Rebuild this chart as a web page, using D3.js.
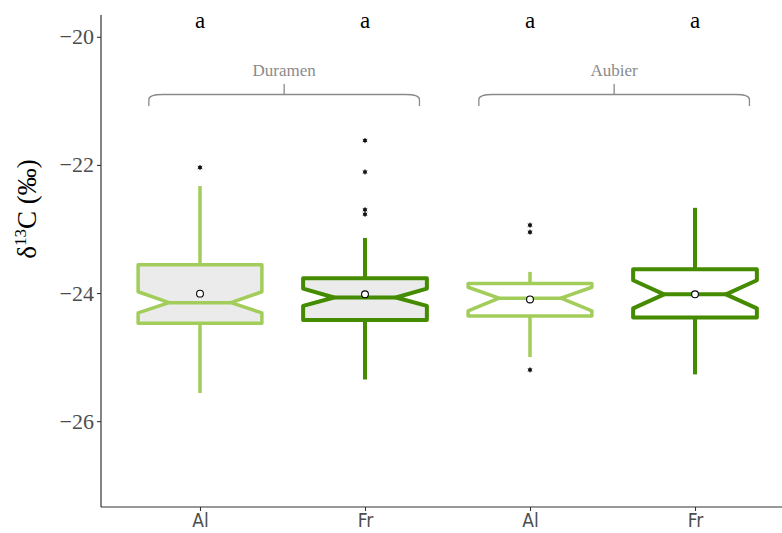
<!DOCTYPE html>
<html>
<head>
<meta charset="utf-8">
<script src="https://cdn.jsdelivr.net/npm/d3@7"></script>
<style>
  html, body { margin: 0; padding: 0; background: #fff; }
  svg { display: block; }
</style>
</head>
<body>
<svg id="chart" width="782" height="533"></svg>
<script>
// ---- data ----
const xLabels   = ["Al", "Fr", "Al", "Fr"];
const groups    = ["Duramen", "Duramen", "Aubier", "Aubier"];
const species   = ["Al", "Fr", "Al", "Fr"];
const q1        = [-24.47, -24.42, -24.36, -24.38];
const medians   = [-24.15, -24.07, -24.08, -24.02];
const q3        = [-23.56, -23.77, -23.85, -23.63];
const notchLow  = [-24.31, -24.20, -24.28, -24.24];
const notchHigh = [-23.98, -23.93, -23.91, -23.80];
const whiskLow  = [-25.56, -25.35, -25.00, -25.27];
const whiskHigh = [-22.33, -23.14, -23.67, -22.67];
const means     = [-24.01, -24.02, -24.10, -24.02];
const outliers  = [[-22.04], [-21.62, -22.11, -22.70, -22.77], [-22.94, -23.05, -25.20], []];
const letters   = ["a", "a", "a", "a"];
const yTicks    = [-26, -24, -22, -20];
const groupNames = ["Duramen", "Aubier"];
const groupMembers = [[0, 1], [2, 3]];

// ---- styles ----
const colorBySpecies = { Al: "#A2CD5A", Fr: "#458B00" };
const widthBySpecies = { Al: 3.5, Fr: 4 };
const fillByGroup = { Duramen: "#EBEBEB", Aubier: "#FFFFFF" };

const svg = d3.select("#chart");
const plotLeft = 101, plotTop = 15, plotBottom = 507;

const x = d3.scalePoint().domain(d3.range(xLabels.length)).range([plotLeft, 794]).padding(0.6);
const y = d3.scaleLinear().domain([-27.34, -19.66]).range([plotBottom, plotTop]);
const step = x.step();
const halfW = step * 0.375;
const notchHalf = halfW * 0.5;

// axes
const yAxis = d3.axisLeft(y).tickValues(yTicks).tickSize(4).tickPadding(3)
  .tickFormat(d => d3.format("d")(d).replace("-", "\u2212"));
const gy = svg.append("g").attr("transform", `translate(${plotLeft},0)`).call(yAxis);
gy.select(".domain").remove();
gy.selectAll(".tick line").attr("stroke", "#333").attr("stroke-width", 1.1);
gy.selectAll(".tick text").attr("font-family", "Liberation Serif, serif").attr("font-size", 22)
  .attr("fill", "#4D4D4D");

const xAxis = d3.axisBottom(x).tickSize(4).tickPadding(4).tickFormat(i => xLabels[i]);
const gx = svg.append("g").attr("transform", `translate(0,${plotBottom})`).call(xAxis);
gx.select(".domain").remove();
gx.selectAll(".tick line").attr("stroke", "#333").attr("stroke-width", 1.1);
gx.selectAll(".tick text").attr("font-family", "Liberation Sans Narrow, DejaVu Sans Condensed, sans-serif")
  .attr("font-size", 19).attr("fill", "#4D4D4D").attr("y", 20).attr("dy", null);

svg.append("line").attr("x1", plotLeft).attr("x2", plotLeft).attr("y1", plotTop).attr("y2", plotBottom)
  .attr("stroke", "#333").attr("stroke-width", 1.2);
svg.append("line").attr("x1", plotLeft).attr("x2", 782).attr("y1", plotBottom).attr("y2", plotBottom)
  .attr("stroke", "#333").attr("stroke-width", 1.2);

// y label
const ylab = svg.append("text").attr("transform", "translate(36,209) rotate(-90)")
  .attr("text-anchor", "middle").attr("font-family", "Liberation Serif, serif")
  .attr("font-size", 27).attr("fill", "#000");
ylab.append("tspan").text("\u03B4");
ylab.append("tspan").text("13").attr("font-size", 17).attr("dy", -10);
ylab.append("tspan").text("C (\u2030)").attr("dy", 10);

// boxes
const idx = d3.range(xLabels.length);
const boxes = svg.append("g");
idx.forEach(i => {
  const cx = x(i);
  const col = colorBySpecies[species[i]];
  const sw = widthBySpecies[species[i]];
  const g = boxes.append("g");
  // whiskers
  g.append("line").attr("x1", cx).attr("x2", cx).attr("y1", y(q3[i])).attr("y2", y(whiskHigh[i]))
    .attr("stroke", col).attr("stroke-width", sw);
  g.append("line").attr("x1", cx).attr("x2", cx).attr("y1", y(q1[i])).attr("y2", y(whiskLow[i]))
    .attr("stroke", col).attr("stroke-width", sw);
  // notched box
  const pts = [
    [cx - halfW, y(q3[i])], [cx + halfW, y(q3[i])], [cx + halfW, y(notchHigh[i])],
    [cx + notchHalf, y(medians[i])], [cx + halfW, y(notchLow[i])], [cx + halfW, y(q1[i])],
    [cx - halfW, y(q1[i])], [cx - halfW, y(notchLow[i])], [cx - notchHalf, y(medians[i])],
    [cx - halfW, y(notchHigh[i])]
  ];
  g.append("path").attr("d", d3.line()(pts) + "Z")
    .attr("fill", fillByGroup[groups[i]]).attr("stroke", col).attr("stroke-width", sw)
    .attr("stroke-linejoin", "round");
  // median
  g.append("line").attr("x1", cx - notchHalf).attr("x2", cx + notchHalf)
    .attr("y1", y(medians[i])).attr("y2", y(medians[i]))
    .attr("stroke", col).attr("stroke-width", sw);
  // outliers
  outliers[i].forEach(v => {
    g.append("circle").attr("cx", cx).attr("cy", y(v)).attr("r", 1.8).attr("fill", "#111");
    g.append("path").attr("transform", `translate(${cx},${y(v)})`)
      .attr("d", d3.symbol(d3.symbolAsterisk, 18)()).attr("stroke", "#111").attr("stroke-width", 1)
      .attr("fill", "none");
  });
  // mean
  g.append("circle").attr("cx", cx).attr("cy", y(means[i])).attr("r", 3.4)
    .attr("fill", "#fff").attr("stroke", "#000").attr("stroke-width", 1.1);
  // letter
  svg.append("text").attr("x", cx).attr("y", 28).attr("text-anchor", "middle")
    .attr("font-family", "Liberation Serif, serif").attr("font-size", 23).attr("fill", "#000")
    .text(letters[i]);
});

// braces
const braceTop = 94.5, braceBottom = 106, tickTop = 84;
groupNames.forEach((name, k) => {
  const m = groupMembers[k];
  const x0 = x(m[0]) - step * 0.31;
  const x1 = x(m[m.length - 1]) + step * 0.33;
  const xm = (x0 + x1) / 2;
  const r = 14;
  const p = d3.path();
  p.moveTo(x0, braceBottom);
  p.lineTo(x0, braceTop + 5);
  p.bezierCurveTo(x0, braceTop + 1, x0 + r * 0.4, braceTop, x0 + r, braceTop);
  p.lineTo(x1 - r, braceTop);
  p.bezierCurveTo(x1 - r * 0.4, braceTop, x1, braceTop + 1, x1, braceTop + 5);
  p.lineTo(x1, braceBottom);
  p.moveTo(xm, braceTop);
  p.lineTo(xm, tickTop);
  svg.append("path").attr("d", p.toString()).attr("fill", "none")
    .attr("stroke", "#8A8A8A").attr("stroke-width", 1.3);
  svg.append("text").attr("x", xm).attr("y", 76).attr("text-anchor", "middle")
    .attr("font-family", "Liberation Serif, serif").attr("font-size", 17).attr("fill", "#8A8A8A")
    .text(name);
});
</script>
</body>
</html>
